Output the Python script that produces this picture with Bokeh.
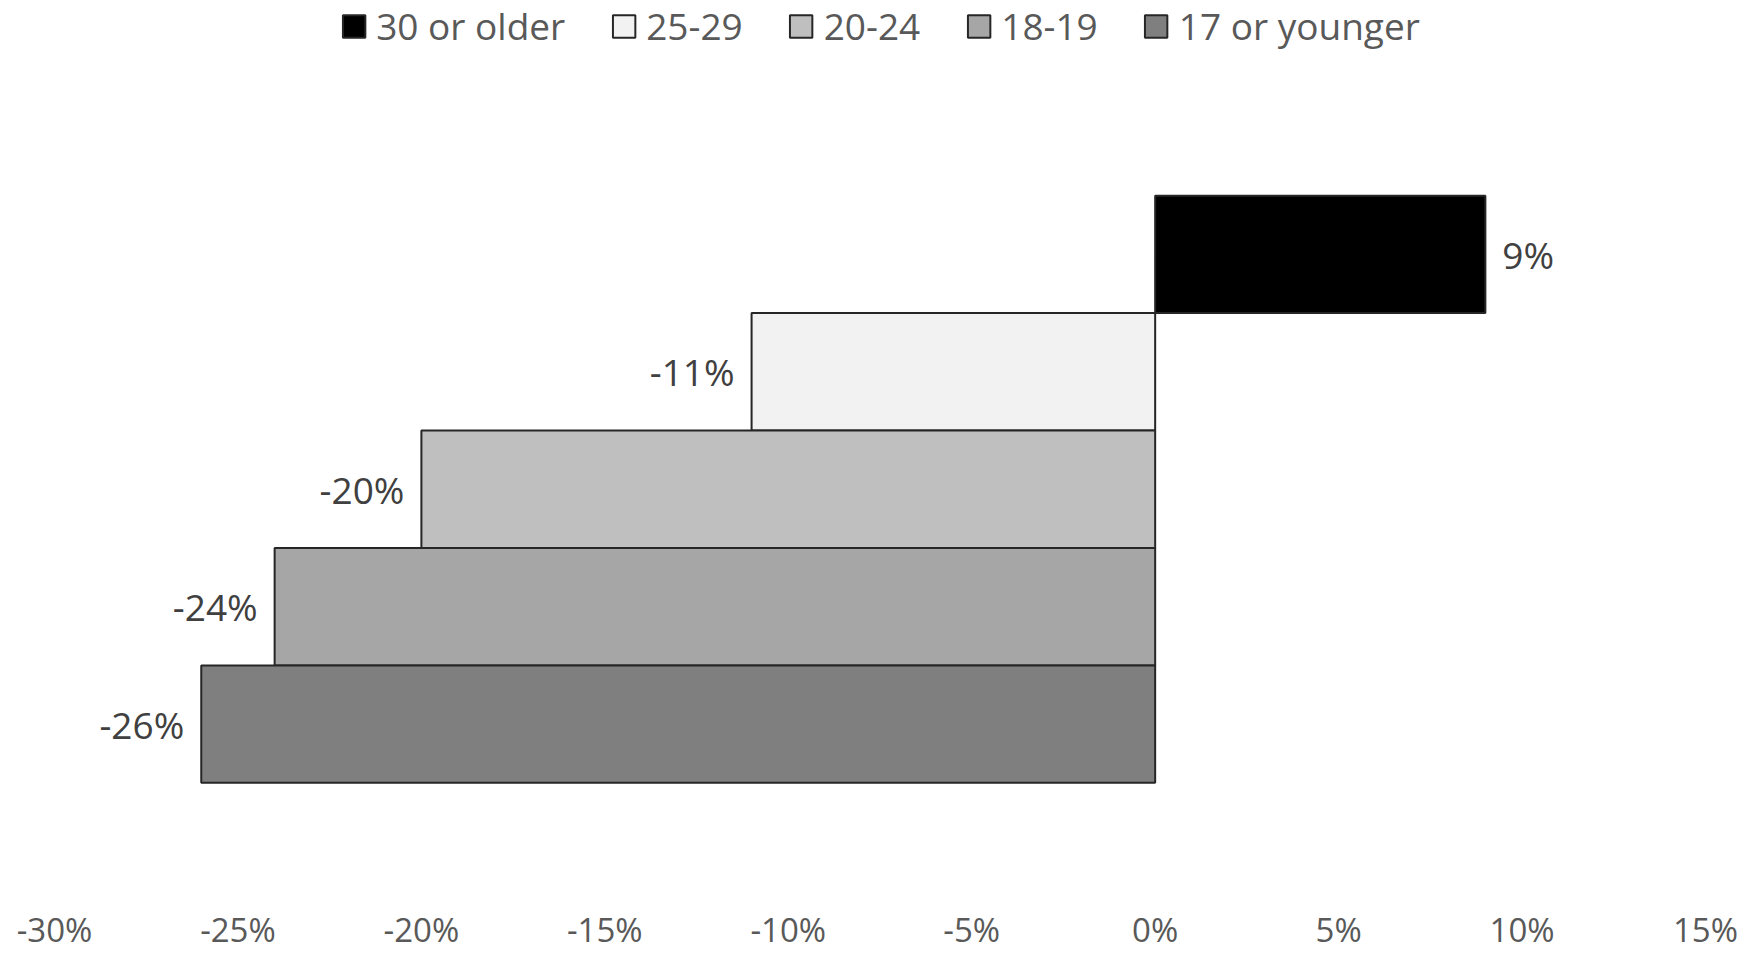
from bokeh.plotting import figure
from bokeh.models import ColumnDataSource, Range1d, Legend, LegendItem, FixedTicker
from bokeh.embed import file_html
from bokeh.resources import INLINE
from bokeh.core.properties import value

# ---- data ----
groups = ["30 or older", "25-29", "20-24", "18-19", "17 or younger"]
changes = [9, -11, -20, -24, -26]
colors = ["#000000", "#F2F2F2", "#BFBFBF", "#A6A6A6", "#7F7F7F"]
tick_values = [-30, -25, -20, -15, -10, -5, 0, 5, 10, 15]
tick_labels = ["-30%", "-25%", "-20%", "-15%", "-10%", "-5%", "0%", "5%", "10%", "15%"]

n = len(groups)
ypos = [n - 1 - i for i in range(n)]
labels = [f"{v}%" for v in changes]
offsets = [17 if v > 0 else -17 for v in changes]
aligns = ["left" if v > 0 else "right" for v in changes]

src = ColumnDataSource(dict(group=groups, value=changes, color=colors, y=ypos,
                            label=labels, off=offsets, align=aligns))

p = figure(width=1747, height=954, output_backend="svg", toolbar_location=None,
           x_range=Range1d(-30, 15), y_range=Range1d(-1.383, 6.162),
           min_border_left=54, min_border_right=42, min_border_top=0, min_border_bottom=40)

r = p.hbar(y="y", left=0, right="value", height=1, source=src,
           fill_color="color", line_color="#262626", line_width=2)

p.text(x="value", y="y", text="label", source=src, x_offset="off", text_align="align",
       text_baseline="middle", text_font=value("Open Sans"), text_font_size="37px",
       text_color="#404040")

items = [LegendItem(label=g, renderers=[r], index=i) for i, g in enumerate(groups)]
legend = Legend(items=items, orientation="horizontal", location="top_center",
                border_line_alpha=0, background_fill_alpha=0,
                label_text_font="Open Sans", label_text_font_size="37px",
                label_text_color="#595959", glyph_width=28, glyph_height=28,
                label_standoff=9, spacing=44, padding=0, margin=0)
p.add_layout(legend, "center")

p.xaxis.ticker = FixedTicker(ticks=tick_values)
p.xaxis.major_label_overrides = {v: l for v, l in zip(tick_values, tick_labels)}
p.xaxis.axis_line_color = None
p.xaxis.major_tick_line_color = None
p.xaxis.minor_tick_line_color = None
p.xaxis.major_label_standoff = 14
p.xaxis.major_label_text_font = "Open Sans"
p.xaxis.major_label_text_font_size = "33px"
p.xaxis.major_label_text_color = "#595959"
p.yaxis.visible = False
p.xgrid.visible = False
p.ygrid.visible = False
p.outline_line_color = None

open("out.html", "w").write(file_html(p, INLINE))
